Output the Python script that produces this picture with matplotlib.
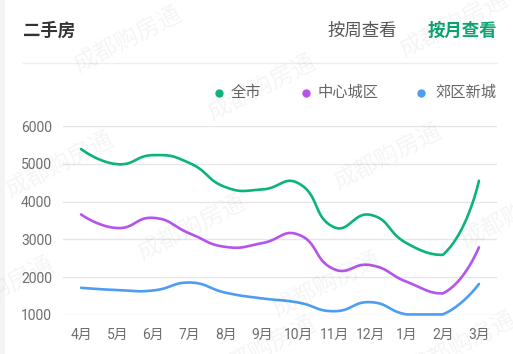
import numpy as np
import matplotlib
matplotlib.use("Agg")
import matplotlib.pyplot as plt
from matplotlib.patches import Rectangle

plt.rcParams['font.family'] = ['Roboto', 'Noto Sans CJK SC', 'DejaVu Sans']

months = ['4月', '5月', '6月', '7月', '8月', '9月', '10月', '11月', '12月', '1月', '2月', '3月']
city = [5390, 4990, 5230, 5020, 4380, 4320, 4490, 3320, 3650, 2900, 2590, 4550]
center = [3660, 3300, 3570, 3160, 2800, 2900, 3130, 2210, 2320, 1880, 1570, 2790]
suburb = [1720, 1660, 1650, 1860, 1590, 1440, 1330, 1100, 1340, 1015, 1015, 1820]
series_names = ['全市', '中心城区', '郊区新城']
colors = ['#0bb37f', '#b554ec', '#4c9df3']
yticks = [1000, 2000, 3000, 4000, 5000, 6000]

CJK = ['Noto Sans CJK SC', 'DejaVu Sans']

W, H = 513, 354
fig = plt.figure(figsize=(W / 100, H / 100), dpi=100)
fig.patch.set_facecolor('white')

# page edge strip
fig.add_artist(Rectangle((0, 0), 5 / W, 1, transform=fig.transFigure,
                         facecolor='#f4f4f4', edgecolor='none', zorder=0))

left, right = 63 / W, 497 / W
bottom, top = (H - 315) / H, (H - 126) / H
ax = fig.add_axes([left, bottom, right - left, top - bottom])
ax.set_facecolor('none')
ax.set_xlim(-0.5, len(months) - 0.5)
ax.set_ylim(yticks[0], yticks[-1])

# pixel scales for smoothing
sx = (497 - 63) / len(months)
sy = (315 - 126) / (yticks[-1] - yticks[0])


def smooth_curve(xs, ys, smooth=0.5, n=40):
    P = np.column_stack([np.asarray(xs, float) * sx, np.asarray(ys, float) * sy])
    N = len(P)
    lo = P.min(axis=0)
    hi = P.max(axis=0)
    cpb, cpa = [], []
    for i in range(N):
        p = P[i]
        if i == 0 or i == N - 1:
            cpb.append(p.copy())
            cpa.append(p.copy())
            continue
        prev = P[i - 1]
        nxt = P[i + 1]
        v = (nxt - prev) * smooth
        d0 = np.hypot(*(p - prev))
        d1 = np.hypot(*(p - nxt))
        s = d0 + d1
        if s:
            d0 /= s
            d1 /= s
        cpb.append(np.clip(p - v * d0, lo, hi))
        cpa.append(np.clip(p + v * d1, lo, hi))
    out = [P[0:1]]
    t = np.linspace(0, 1, n)[1:, None]
    for i in range(N - 1):
        p0, c0, c1, p1 = P[i], cpa[i], cpb[i + 1], P[i + 1]
        B = ((1 - t) ** 3) * p0 + 3 * ((1 - t) ** 2) * t * c0 + 3 * (1 - t) * (t ** 2) * c1 + (t ** 3) * p1
        out.append(B)
    Q = np.vstack(out)
    return Q[:, 0] / sx, Q[:, 1] / sy


x = np.arange(len(months))
for vals, c in zip([city, center, suburb], colors):
    cx, cy = smooth_curve(x, vals)
    ax.plot(cx, cy, color=c, lw=1.9, solid_capstyle='round', solid_joinstyle='round',
            zorder=3, clip_on=False)

ax.set_yticks(yticks)
ax.set_xticks(x)
ax.set_xticklabels(months)
ax.grid(axis='y', color='#e6e6e6', lw=1)
ax.set_axisbelow(True)
for s in ax.spines.values():
    s.set_visible(False)
ax.tick_params(axis='both', length=0, labelsize=10, colors='#6e6e6e')
ax.tick_params(axis='y', pad=8)
ax.tick_params(axis='x', pad=9)

# header
fig.text(23 / W, 1 - 31 / H, '二手房', fontsize=12.5, fontweight='bold', color='#333333',
         ha='left', va='center', family=CJK)
fig.text(397 / W, 1 - 31 / H, '按周查看', fontsize=12.5, color='#555555', ha='right', va='center',
         family=CJK)
fig.text(497 / W, 1 - 31 / H, '按月查看', fontsize=12.5, fontweight='bold', color='#0aa56e',
         ha='right', va='center', family=CJK)
fig.add_artist(plt.Line2D([23 / W, 497 / W], [1 - 63 / H, 1 - 63 / H], color='#eeeeee', lw=1))

# legend
leg_items = [(219, 231), (306, 318), (421, 435)]
for (dx, tx), name, c in zip(leg_items, series_names, colors):
    fig.add_artist(plt.Line2D([dx / W], [1 - 93 / H], marker='o', markersize=5,
                              color=c, markeredgecolor=c, lw=0))
    fig.text(tx / W, 1 - 92 / H, name, fontsize=11, color='#666666', ha='left', va='center',
             family=CJK)

# watermarks
wm = [(128, 40), (454, 25), (262, 88), (60, 165), (388, 157), (192, 228),
      (515, 215), (0, 290), (327, 285), (262, 350), (462, 345)]
for px, py in wm:
    fig.text(px / W, 1 - py / H, '成都购房通', fontsize=17, color='#000000', alpha=0.045,
             rotation=27, ha='center', va='center', rotation_mode='anchor', family=CJK)

fig.savefig('out.png', dpi=100, facecolor='white')
